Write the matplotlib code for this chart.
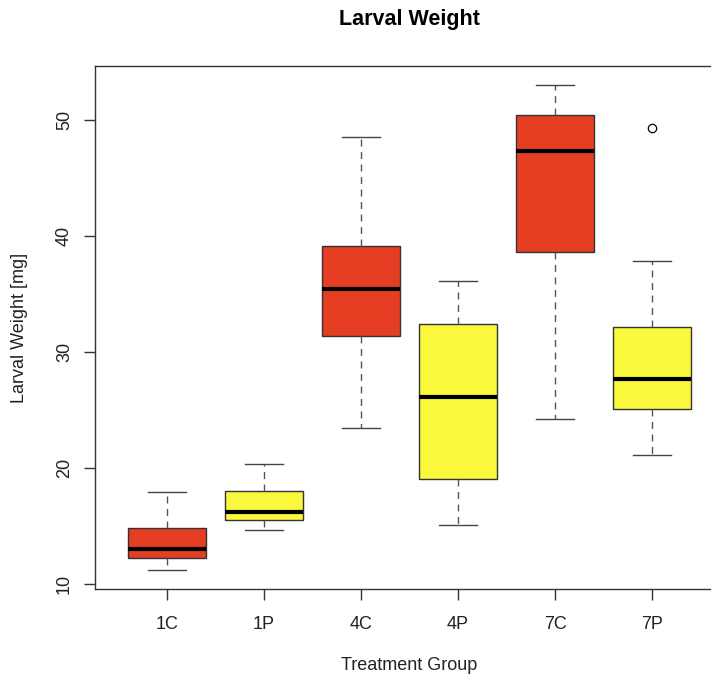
import matplotlib.pyplot as plt

plt.rcParams['font.family'] = ['Liberation Sans', 'DejaVu Sans']

groups = ['1C', '1P', '4C', '4P', '7C', '7P']
lower = [11.2, 14.6, 23.4, 15.1, 24.2, 21.1]
q1 = [12.2, 15.5, 31.4, 19.0, 38.6, 25.1]
median = [13.0, 16.2, 35.4, 26.1, 47.3, 27.7]
q3 = [14.8, 18.0, 39.1, 32.4, 50.4, 32.1]
upper = [17.9, 20.3, 48.5, 36.1, 53.0, 37.8]
outliers = [[], [], [], [], [], [49.3]]
fills = ['#E63E22', '#FAF83C', '#E63E22', '#FAF83C', '#E63E22', '#FAF83C']

stats = []
for i in range(len(groups)):
    stats.append({'label': groups[i], 'whislo': lower[i], 'q1': q1[i],
                  'med': median[i], 'q3': q3[i], 'whishi': upper[i],
                  'fliers': outliers[i]})

fig = plt.figure(figsize=(7.11, 6.77), dpi=100)
# the right edge of the plot frame falls outside the picture
ax = fig.add_axes([95.3 / 711, 1 - 589.3 / 677, (723.8 - 95.3) / 711, (589.3 - 65.7) / 677])

pos = list(range(1, len(groups) + 1))
bp = ax.bxp(stats, positions=pos, widths=0.8, patch_artist=True,
            boxprops=dict(edgecolor='#333333', linewidth=1.0),
            medianprops=dict(color='black', linewidth=3, solid_capstyle='butt'),
            whiskerprops=dict(color='#555555', linewidth=1.0, linestyle=(0, (5, 4))),
            capprops=dict(color='#444444', linewidth=1.0),
            flierprops=dict(marker='o', markerfacecolor='white', markeredgecolor='black',
                            markersize=6, markeredgewidth=0.9))
for patch, c in zip(bp['boxes'], fills):
    patch.set_facecolor(c)
for cap in bp['caps']:
    x0, x1 = cap.get_xdata()
    m = (x0 + x1) / 2
    cap.set_xdata([m - 0.2, m + 0.2])

ax.set_xlim(0.26, 6.74)
ax.set_ylim(9.53, 54.67)
ax.set_yticks([10, 20, 30, 40, 50])
ax.set_xticks(pos)
ax.set_xticklabels(groups)
for lab in ax.get_yticklabels():
    lab.set_rotation(90)
    lab.set_va('center')

for s in ax.spines.values():
    s.set_color('#333333')
    s.set_linewidth(1.0)
ax.tick_params(axis='both', length=8, width=1.0, color='#333333', labelsize=13,
               labelcolor='#222222')
ax.tick_params(axis='x', pad=11)
ax.tick_params(axis='y', pad=8)

fig.text(409.5 / 711, 1 - 20 / 677, 'Larval Weight', ha='center', va='center',
         fontsize=15.5, fontweight='bold')
fig.text(409.5 / 711, 1 - 665 / 677, 'Treatment Group', ha='center', va='center',
         fontsize=13, color='#222222')
fig.text(20 / 711, 1 - 327.5 / 677, 'Larval Weight [mg]', ha='center', va='center',
         rotation=90, fontsize=13, color='#222222')

fig.savefig('out.png', dpi=100)
